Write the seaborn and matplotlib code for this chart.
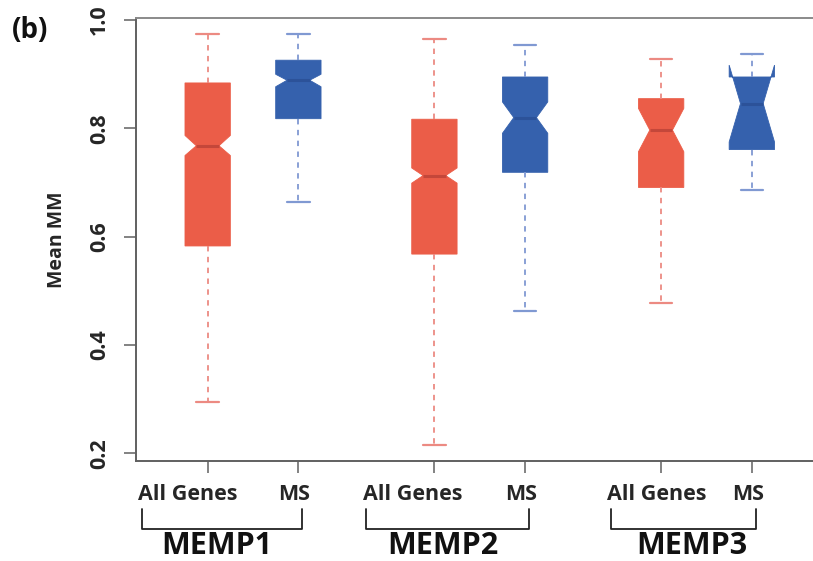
import matplotlib
matplotlib.use("Agg")
import matplotlib.pyplot as plt
import matplotlib.transforms as mtransforms
import seaborn as sns

# summary stats (Mean MM per set)
groups = ["MEMP1", "MEMP2", "MEMP3"]
subsets = ["All Genes", "MS"]
whislo = [0.294, 0.664, 0.215, 0.463, 0.477, 0.686]
q1 = [0.583, 0.818, 0.568, 0.719, 0.691, 0.761]
med = [0.768, 0.889, 0.713, 0.820, 0.797, 0.846]
q3 = [0.884, 0.926, 0.817, 0.895, 0.855, 0.895]
whishi = [0.974, 0.974, 0.966, 0.954, 0.929, 0.937]
notch_lo = [0.750, 0.877, 0.699, 0.791, 0.757, 0.775]
notch_hi = [0.787, 0.900, 0.727, 0.849, 0.837, 0.917]

fills = {"All Genes": "#EB5D48", "MS": "#3561AD"}
medcols = {"All Genes": "#C4473A", "MS": "#2C5299"}
whiscols = {"All Genes": "#EC8A82", "MS": "#8099D2"}

sns.set_theme(style="white")
plt.rcParams["font.family"] = ["Open Sans", "DejaVu Sans"]
plt.rcParams["font.weight"] = "bold"

# positions: two boxes per group, wider gap between groups
positions = []
box_subset = []
for g in range(len(groups)):
    for s, name in enumerate(subsets):
        positions.append(1 + g * 2.5 + s)
        box_subset.append(name)

# hand placed labels in the original are nudged a bit (pixels)
label_shift = [-20, -4, -22, -4, -4, -4]
group_shift = [-5, -5, 8]
PX_PER_UNIT = 90.7

stats = []
for i in range(len(positions)):
    stats.append(dict(whislo=whislo[i], q1=q1[i], med=med[i], q3=q3[i],
                      whishi=whishi[i], cilo=notch_lo[i], cihi=notch_hi[i],
                      fliers=[]))

fig = plt.figure(figsize=(8.13, 5.61), dpi=100)
ax = fig.add_axes([0.1673, 0.1783, 0.8456, 0.7897])

art = ax.bxp(stats, positions=positions, widths=0.5, capwidths=0.25,
             shownotches=True, patch_artist=True, showfliers=False,
             manage_ticks=False)

for i, name in enumerate(box_subset):
    art["boxes"][i].set_facecolor(fills[name])
    art["boxes"][i].set_edgecolor(fills[name])
    art["boxes"][i].set_linewidth(0.6)
    art["medians"][i].set_color(medcols[name])
    art["medians"][i].set_linewidth(2.2)
    for w in art["whiskers"][2 * i:2 * i + 2]:
        w.set_color(whiscols[name])
        w.set_linewidth(1.3)
        w.set_linestyle((0, (3, 3)))
    for c in art["caps"][2 * i:2 * i + 2]:
        c.set_color(whiscols[name])
        c.set_linewidth(1.6)

ax.set_xlim(0.21, 7.79)
ax.set_ylim(0.186, 1.004)
ax.set_yticks([0.2, 0.4, 0.6, 0.8, 1.0])
ax.set_yticklabels(["0.2", "0.4", "0.6", "0.8", "1.0"], rotation=90,
                   va="center", fontsize=15.5, fontweight="bold")
ax.set_xticks(positions)
ax.set_xticklabels(box_subset, fontsize=15.5, fontweight="bold")
ax.tick_params(axis="y", left=True, length=8.6, width=1.1, color="#606060", pad=10)
ax.tick_params(axis="x", bottom=True, length=8.6, width=1.1, color="#606060", pad=8)
ax.set_ylabel("Mean MM", fontsize=14, fontweight="bold", labelpad=16)

for lab, dx in zip(ax.get_xticklabels(), label_shift):
    lab.set_transform(lab.get_transform() +
                      mtransforms.ScaledTranslation(dx / 100, 0, fig.dpi_scale_trans))

for side in ["left", "bottom"]:
    ax.spines[side].set_color("#606060")
    ax.spines[side].set_linewidth(1.4)
ax.spines["top"].set_color("#8a8a8a")
ax.spines["top"].set_linewidth(1.4)
ax.spines["right"].set_visible(False)

# brackets and group names below the tick labels
trans = mtransforms.blended_transform_factory(ax.transData, fig.transFigure)
for g, name in enumerate(groups):
    a, b = 2 * g, 2 * g + 1
    x0 = positions[a] + (label_shift[a] - 46) / PX_PER_UNIT
    x1 = positions[b] + (label_shift[b] + 8) / PX_PER_UNIT
    ax.plot([x0, x0, x1, x1], [0.093, 0.057, 0.057, 0.093], color="#222222",
            lw=1.3, transform=trans, clip_on=False)
    xc = (x0 + x1) / 2 + group_shift[g] / PX_PER_UNIT
    ax.text(xc, 0.012, name, transform=trans, ha="center",
            va="baseline", fontsize=22, fontweight="bold", color="#111111")

fig.text(0.014, 0.972, "(b)", ha="left", va="top", fontsize=20,
         fontweight="bold", color="#111111")

fig.savefig("out.png", dpi=100)
